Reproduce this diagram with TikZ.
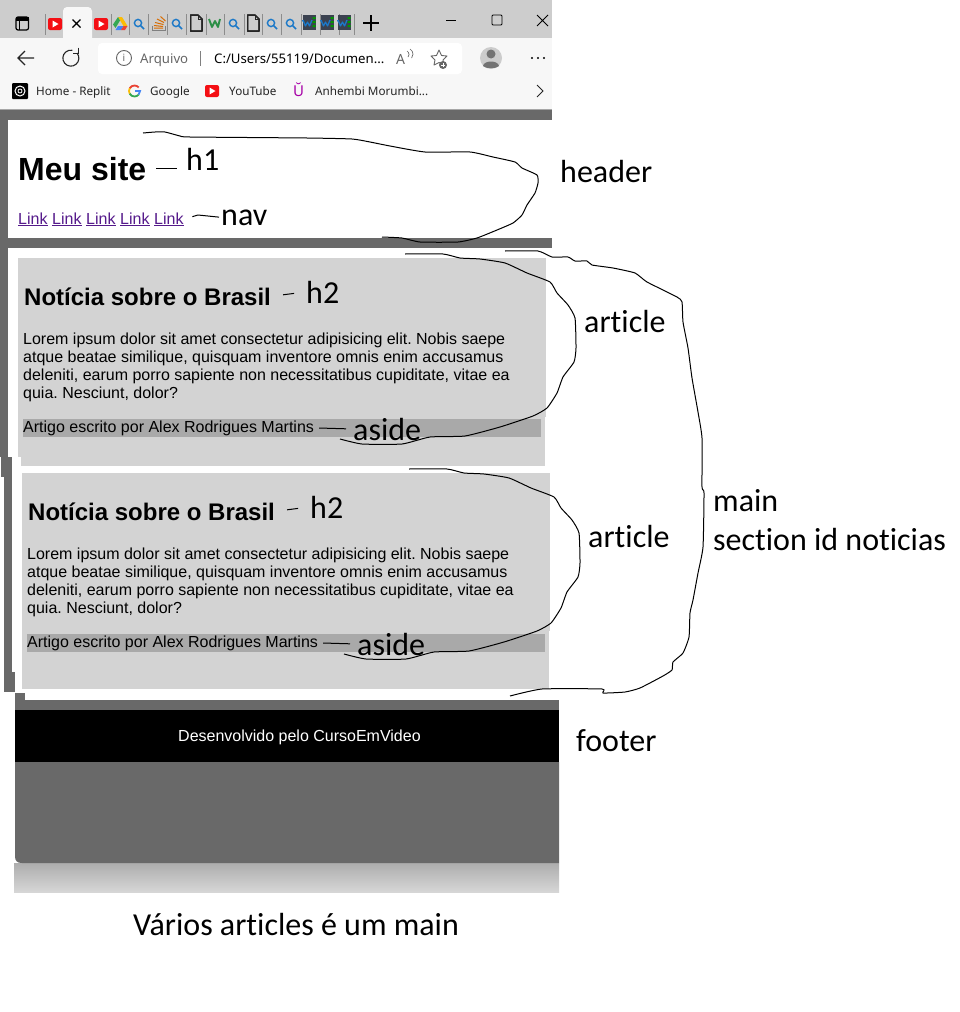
\documentclass[tikz,border=0pt]{standalone}
\usepackage{fontspec}
\setmainfont{Liberation Sans}
\newfontfamily\handfont[Ligatures=NoCommon]{Carlito}
\newfontfamily\uifont{Noto Sans}
\definecolor{pagegray}{HTML}{696969}
\definecolor{cardgray}{HTML}{D3D3D3}
\definecolor{asidegray}{HTML}{A9A9A9}
\definecolor{tabgray}{HTML}{CDCDCD}
\definecolor{barwhite}{HTML}{F7F7F7}
\definecolor{linkpurple}{HTML}{551A8B}
\definecolor{ytred}{HTML}{F40F14}
\definecolor{searchblue}{HTML}{1B78C8}
\definecolor{wdark}{HTML}{3B4250}
\definecolor{gred}{HTML}{EA4335}
\definecolor{gyellow}{HTML}{FBBC05}
\definecolor{ggreen}{HTML}{34A853}
\definecolor{gblue}{HTML}{4285F4}
\tikzset{
  txt/.style={inner sep=0pt, anchor=base west},
  bodytxt/.style={txt, font=\fontsize{16}{18}\selectfont},
  linktxt/.style={bodytxt, text=linkpurple},
  titletxt/.style={txt, font=\bfseries\fontsize{24}{28}\selectfont},
  handlbl/.style={txt, font=\handfont\fontsize{32}{38}\selectfont},
  uitxt/.style={txt, font=\uifont\fontsize{11.7}{14}\selectfont, text=black!85},
  addrtxt/.style={txt, font=\uifont\fontsize{13.2}{14}\selectfont},
  handline/.style={line width=1pt, black, line join=round},
  tabsep/.style={line width=0.8pt, black!45},
  icon/.style={line width=1pt, black!85}
}
% small browser icons, #1 = x, #2 = y of the centre
\newcommand{\yticon}[2]{
  \fill[ytred, rounded corners=2pt] (#1-7,#2-6) rectangle (#1+7,#2+6);
  \fill[white] (#1-2.5,#2-3.5) -- (#1+3.5,#2) -- (#1-2.5,#2+3.5) -- cycle;
}
\newcommand{\searchicon}[2]{
  \draw[searchblue, line width=1.4pt] (#1-1,#2-1) circle (3.6);
  \draw[searchblue, line width=1.6pt] (#1+1.8,#2+1.8) -- (#1+5,#2+5);
}
\newcommand{\docicon}[2]{
  \draw[black!85, line width=1pt, line join=round] (#1-5.5,#2-8) -- (#1+2,#2-8) -- (#1+6,#2-4) -- (#1+6,#2+8) -- (#1-5.5,#2+8) -- cycle;
  \draw[black!85, line width=0.8pt] (#1+2,#2-8) -- (#1+2,#2-4) -- (#1+6,#2-4);
}
\newcommand{\wicon}[2]{
  \fill[wdark] (#1-6.5,#2-8) rectangle (#1+6.5,#2+7);
  \draw[searchblue, line width=1.3pt, line join=round] (#1-6,#2-3) -- (#1-3.5,#2+3) -- (#1-1.5,#2-1) -- (#1+0.5,#2+3) -- (#1+3,#2-3);
  \fill[green!60!black] (#1+3.5,#2-6) rectangle (#1+6.5,#2-4) (#1+3.5,#2-2) rectangle (#1+6.5,#2) (#1+3.5,#2+2) rectangle (#1+6.5,#2+4);
}
\begin{document}
\frenchspacing
\begin{tikzpicture}[x=1pt, y=-1pt]
  \useasboundingbox (0,0) rectangle (960,1012);
  \fill[white] (0,0) rectangle (960,1012);

  % Browser bars
  \fill[tabgray] (0,0) rectangle (552,38);
  \fill[barwhite] (0,38) rectangle (552,109);
  \fill[black!35] (0,109) rectangle (552,110);
  \fill[barwhite, rounded corners=4pt] (63,7) rectangle (92,45);
  \fill[white, rounded corners=4pt] (98,43) rectangle (462,74);

  % Tabs
  \foreach \x in {45,111,129,148,167,186,206,224,244,262,281,301,320,339,354}
    \draw[tabsep] (\x,14) -- (\x,35);
  \draw[black, line width=1.2pt, rounded corners=2pt] (16,17) rectangle (28.5,30);
  \fill[black] (16,17) rectangle (28.5,20.5);
  \draw[black, line width=1pt] (19.5,20) -- (19.5,30);
  \yticon{55}{24}
  \yticon{101}{24}
  \draw[line width=1.1pt] (72.5,19.5) -- (80.5,27.5) (80.5,19.5) -- (72.5,27.5);
  \fill[gyellow] (118,17) -- (122,17) -- (127.5,26) -- (123.5,26) -- cycle;
  \fill[ggreen] (118,17) -- (120,20.5) -- (115.5,28) -- (113,24.5) -- cycle;
  \fill[gblue] (118,26) -- (123.5,26) -- (121,30) -- (115.5,30) -- cycle;
  \fill[gred] (123.5,26) -- (127.5,26) -- (125,30) -- (121,30) -- cycle;
  \foreach \x in {139,177,234,272,291}
    \searchicon{\x}{24}
  \docicon{196}{23}
  \docicon{253}{23}
  \foreach \x in {309,327,344}
    \wicon{\x}{23}
  \draw[black!50, line width=1pt] (152,26) -- (152,30.5) -- (165,30.5) -- (165,26);
  \draw[orange!85!black, line width=1pt] (154,28) -- (163,28) (154,25.5) -- (163,26.5) (155,22.5) -- (163.5,24.5) (157,19) -- (164,22.5) (160.5,16.5) -- (165.5,21);
  \draw[ggreen!85!black, line width=1.9pt, line join=round] (209,19) -- (212,27) -- (215,21) -- (218,27) -- (220,19);
  \draw[line width=1.1pt] (371,15) -- (371,31) (363,23) -- (379,23);
  \draw[line width=0.9pt] (446,20) -- (456,20);
  \draw[line width=0.9pt, rounded corners=1pt] (492,15) rectangle (502,25);
  \draw[line width=0.9pt] (537,15) -- (548,26) (548,15) -- (537,26);

  % Toolbar
  \draw[icon, line width=1.1pt] (34,58) -- (18,58) (25,51) -- (18,58) -- (25,65);
  \draw[icon, line width=1.1pt] (77,53) arc (-40:280:8);
  \draw[icon] (78,47.5) -- (78,53) -- (72.5,53);
  \draw[black!60, line width=0.9pt] (124,58) circle (7.5);
  \node[inner sep=0pt, text=black!60, font=\uifont\fontsize{10}{10}\selectfont] (infoi) at (124,58) {i};
  \node[addrtxt, text=black!60] (arquivo) at (140,63) {Arquivo};
  \draw[black!50, line width=0.8pt] (200,51) -- (200,66);
  \node[addrtxt] (path) at (214,63) {C:/Users/55119/Documen...};
  \node[txt, text=black!60, font=\uifont\fontsize{14}{14}\selectfont] (readi) at (396,64) {A};
  \draw[black!60, line width=0.7pt] (407,51) arc (-60:40:4) (410,49) arc (-60:40:6);
  \draw[black!60, line width=0.9pt, line join=round] (439,50) -- (441.5,55.5) -- (447,56) -- (443,60) -- (444,65) -- (439,62.5) -- (434,65) -- (435,60) -- (431,56) -- (436.5,55.5) -- cycle;
  \fill[black!60] (443,65) circle (4);
  \draw[white, line width=0.7pt] (441,65) -- (445,65) (443,63) -- (443,67);
  \fill[black!20] (491,58) circle (11);
  \fill[black!55] (491,54) circle (4.5);
  \fill[black!55] (483,66) .. controls (484,60) and (498,60) .. (499,66) .. controls (496,69) and (486,69) .. (483,66) -- cycle;
  \foreach \x in {532,538,544}
    \fill (\x,58) circle (1.2);

  % Bookmarks
  \fill[black, rounded corners=1pt] (12,83) rectangle (28,99);
  \draw[white, line width=1pt] (20,91) circle (5);
  \draw[white, line width=0.8pt] (20,91) circle (2);
  \node[uitxt] (bmreplit) at (36,95) {Home - Replit};
  \draw[gred, line width=1.8pt] ([shift={(-150:5.5)}]134.5,91) arc (-150:-40:5.5);
  \draw[gyellow, line width=1.8pt] ([shift={(-150:5.5)}]134.5,91) arc (-150:-210:5.5);
  \draw[ggreen, line width=1.8pt] ([shift={(-210:5.5)}]134.5,91) arc (-210:-320:5.5);
  \draw[gblue, line width=1.8pt] ([shift={(-320:5.5)}]134.5,91) arc (-320:-360:5.5) -- (135,91);
  \node[uitxt] (bmgoogle) at (150,95) {Google};
  \yticon{212}{91}
  \node[uitxt] (bmyt) at (229,95) {YouTube};
  \node[inner sep=0pt, text=violet!70!magenta, font=\uifont\fontsize{15}{15}\selectfont] (bmu) at (298.5,90) {\u{U}};
  \node[uitxt] (bmanh) at (315,95) {Anhembi Morumbi...};
  \draw[icon] (537,85) -- (543,91) -- (537,97);

  % Page background
  \fill[pagegray] (0,110) rectangle (552,120);
  \fill[pagegray] (0,120) rectangle (8,457);
  \fill[pagegray] (8,238) rectangle (552,248);
  \fill[pagegray] (1,457) rectangle (12,477);
  \fill[pagegray] (4,477) rectangle (12,672);
  \fill[pagegray] (4,672) rectangle (15,692);
  \fill[pagegray] (15,693) rectangle (25,710);
  \fill[pagegray] (15,700) rectangle (559,710);

  % Footer
  \shade[top color=black!32, bottom color=black!16] (14,863) rectangle (559,892);
  \fill[pagegray] (15,762) -- (559,762) -- (559,863) -- (22,863) .. controls (17,863) and (15,861) .. (15,856) -- cycle;
  \fill[black] (15,710) rectangle (559,762);
  \node[bodytxt, text=white] (foottxt) at (178,741) {Desenvolvido pelo CursoEmVideo};

  % Header
  \node[txt, font=\bfseries\fontsize{32}{36}\selectfont] (meusite) at (18,180) {Meu site};
  \foreach \n/\x in {a/18,b/52,c/86,d/120,e/154}
    \node[linktxt] (link\n) at (\x,224) {\underline{Link}};

  % Articles
  \fill[cardgray] (18,258) rectangle (546,417);
  \fill[cardgray] (18,417) rectangle (545,457);
  \fill[cardgray] (21,457) rectangle (545,466);
  \fill[cardgray] (22,473) rectangle (550,631);
  \fill[cardgray] (22,631) rectangle (549,689);
  \foreach \n/\dx/\dy in {a/0/0,b/4/215} {
    \fill[asidegray] (23+\dx,419+\dy) rectangle (541+\dx,437+\dy);
    \node[titletxt] (title\n) at (24+\dx,305+\dy) {Notícia sobre o Brasil};
    \node[bodytxt] (para\n) at (23+\dx,344+\dy) {Lorem ipsum dolor sit amet consectetur adipisicing elit. Nobis saepe};
    \node[bodytxt] at (23+\dx,362+\dy) {atque beatae similique, quisquam inventore omnis enim accusamus};
    \node[bodytxt] at (23+\dx,380+\dy) {deleniti, earum porro sapiente non necessitatibus cupiditate, vitae ea};
    \node[bodytxt] at (23+\dx,398+\dy) {quia. Nesciunt, dolor?};
    \node[bodytxt] (asidetxt\n) at (23+\dx,432+\dy) {Artigo escrito por Alex Rodrigues Martins};
    \node[handlbl] (lblhtwo\n) at (306+\dx,303+\dy) {h2};
    \node[handlbl] (lblarticle\n) at (584+\dx,332+\dy) {article};
    \node[handlbl] (lblaside\n) at (353+\dx,440+\dy) {aside};
    % Marks by hand
    \draw[handline, shorten <=12pt, shorten >=12pt] (title\n.east) -- (lblhtwo\n.west);
    \draw[handline, shorten <=5pt, shorten >=7pt] (asidetxt\n.east) -- (lblaside\n.west);
    \draw[handline] plot[smooth, tension=0.3] coordinates {(405+\dx,254+\dy) (443+\dx,254+\dy) (460+\dx,258+\dy) (480+\dx,259+\dy) (505+\dx,263+\dy) (527+\dx,273+\dy) (550+\dx,282+\dy) (557+\dx,293+\dy) (568+\dx,305+\dy) (575+\dx,318+\dy) (576+\dx,348+\dy) (574+\dx,362+\dy) (563+\dx,377+\dy) (557+\dx,393+\dy) (547+\dx,408+\dy) (533+\dx,416+\dy) (500+\dx,427+\dy) (465+\dx,436+\dy) (430+\dx,437+\dy) (402+\dx,444+\dy) (362+\dx,444+\dy) (340+\dx,439+\dy)};
  }

  % Labels
  \node[handlbl] (lblhone) at (186,170) {h1};
  \node[handlbl] (lblnav) at (221,225) {nav};
  \node[handlbl] (lblheader) at (560,182) {header};
  \node[handlbl] (lblmain) at (713,511) {main};
  \node[handlbl] (lblsection) at (713,550) {section id noticias};
  \node[handlbl] (lblfooter) at (576,751) {footer};
  \node[handlbl] (lblnote) at (133,935) {Vários articles é um main};

  % Marks by hand
  \draw[handline, yshift=3pt, shorten <=10pt, shorten >=9pt] (meusite.east) -- (meusite.east -| lblhone.west);
  \draw[handline, shorten <=9pt, shorten >=2pt] (linke.east) -- (198,215) -- (lblnav.west);
  \draw[handline] plot[smooth, tension=0.3] coordinates {(143,133) (155,132) (165,132) (180,136) (190,137) (307,138) (352,139) (370,142) (390,146) (425,152) (470,152) (493,157) (515,162) (522,168) (537,175) (538,183) (535,193) (527,205) (522,215) (513,223) (497,230) (477,238) (458,242) (420,242) (402,238) (382,237)};
  \draw[handline] plot[smooth, tension=0.3] coordinates {(505,251) (538,251) (552,257) (568,257) (575,261) (587,261) (592,265) (613,268) (635,273) (647,282) (677,297) (682,302) (683,322) (688,348) (692,378) (698,412) (702,438) (702,487) (704,493) (703,547) (698,573) (693,600) (690,613) (689,637) (683,653) (673,662) (672,670) (663,676) (640,688) (625,692) (603,693) (602,689) (542,689) (510,696)};
\end{tikzpicture}
\end{document}
